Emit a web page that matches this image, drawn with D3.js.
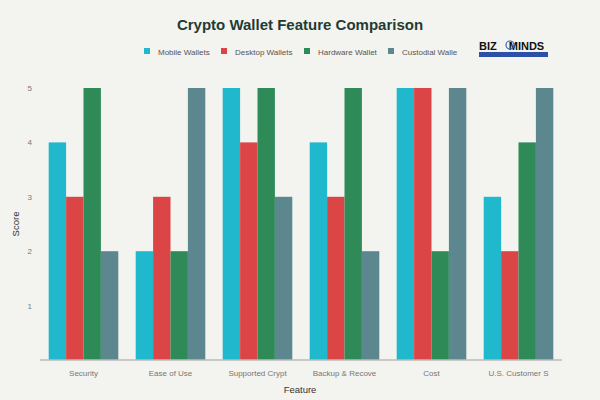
<!DOCTYPE html><html><head><meta charset="utf-8"><script src="https://cdn.jsdelivr.net/npm/d3@7"></script>
<style>body{margin:0;background:#f3f3ef}</style></head><body><svg id="c" width="600" height="400"></svg><script>
const categories=["Security","Ease of Use","Supported Crypt","Backup & Recove","Cost","U.S. Customer S"];
const seriesNames=["Mobile Wallets","Desktop Wallets","Hardware Wallet","Custodial Walle"];
const mobile=[4,2,5,4,5,3];
const desktop=[3,3,4,3,5,2];
const hardware=[5,2,5,5,2,4];
const custodial=[2,5,3,2,5,5];
const yTicks=[1,2,3,4,5];
const colors=["#1fb8cd","#db4545","#2e8b57","#5d878f"];
const values=[mobile,desktop,hardware,custodial];
const svg=d3.select("#c");const F="'Liberation Sans', Arial, sans-serif";
svg.append("rect").attr("width",600).attr("height",400).attr("fill","#f3f3ef");
const x=d3.scaleBand().domain(categories).range([40,562]).paddingInner(0.2).paddingOuter(0.1);
const xs=d3.scaleBand().domain(seriesNames).range([0,x.bandwidth()]);
const y=d3.scaleLinear().domain([0,5]).range([360,88]);
const g=svg.append("g");
seriesNames.forEach((s,i)=>{g.selectAll(null).data(categories).enter().append("rect")
 .attr("x",c=>x(c)+xs(s)).attr("width",xs.bandwidth()).attr("y",(c,j)=>y(values[i][j]))
 .attr("height",(c,j)=>360-y(values[i][j])).attr("fill",colors[i]);});
const xa=svg.append("g").attr("transform","translate(0,360)").call(d3.axisBottom(x).tickSize(0).tickPadding(10));
xa.select(".domain").attr("stroke","#bbb").attr("stroke-width",1.5).attr("d","M40,0H562");
xa.selectAll("text").attr("font-family",F).attr("font-size",8).attr("fill","#777");
const ya=svg.append("g").attr("transform","translate(40,0)").call(d3.axisLeft(y).tickValues(yTicks).tickFormat(d3.format("d")).tickSize(0).tickPadding(8));
ya.select(".domain").remove();ya.selectAll("text").attr("font-family",F).attr("font-size",8).attr("fill","#777");
svg.append("text").attr("x",300).attr("y",393).attr("text-anchor","middle").attr("font-family",F).attr("font-size",9.5).attr("fill","#333").text("Feature");
svg.append("text").attr("transform","translate(19,224) rotate(-90)").attr("text-anchor","middle").attr("font-family",F).attr("font-size",9.5).attr("fill","#333").text("Score");
svg.append("text").attr("x",300).attr("y",30).attr("text-anchor","middle").attr("font-family",F).attr("font-size",15).attr("font-weight","bold").attr("fill","#1f3b33").text("Crypto Wallet Feature Comparison");
const lx=[144,221,304,388];
seriesNames.forEach((s,i)=>{svg.append("rect").attr("x",lx[i]).attr("y",48).attr("width",6).attr("height",6).attr("fill",colors[i]);
 svg.append("text").attr("x",lx[i]+14).attr("y",54.5).attr("font-family",F).attr("font-size",8).attr("fill","#555").text(s);});
svg.append("text").attr("x",479).attr("y",50).attr("font-family",F).attr("font-size",11).attr("font-weight","900").attr("fill","#111").text("BIZ").append("tspan").attr("dx",12).text("MINDS");
svg.append("circle").attr("cx",510).attr("cy",45).attr("r",4).attr("fill","none").attr("stroke","#3a62b5").attr("stroke-width",1.2);
svg.append("rect").attr("x",479).attr("y",52).attr("width",69).attr("height",5).attr("fill","#2c4fa8");
</script></body></html>
